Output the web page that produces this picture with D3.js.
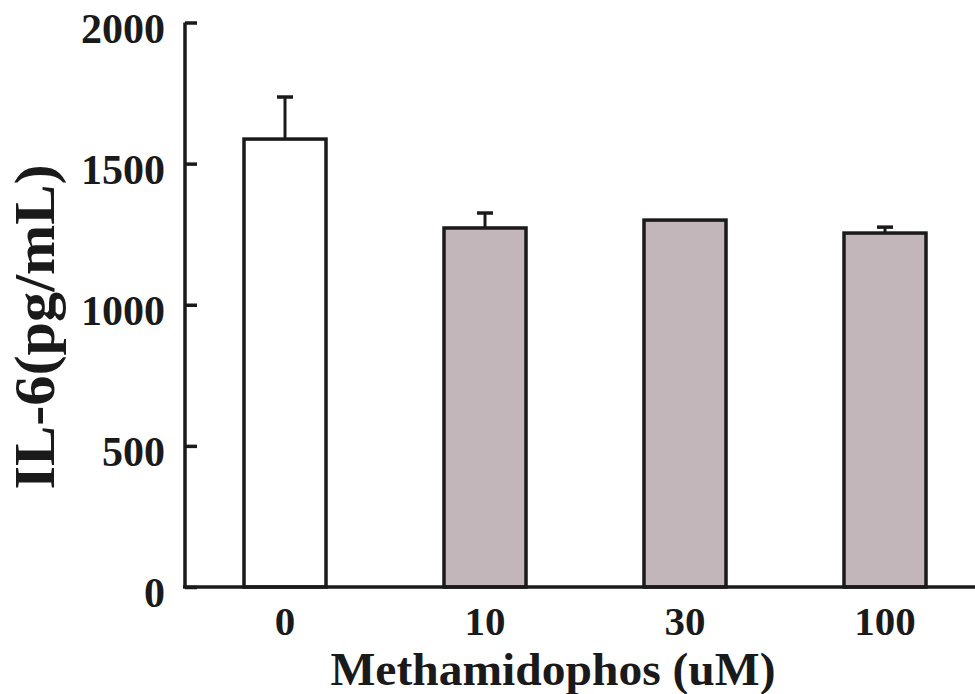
<!DOCTYPE html>
<html>
<head>
<meta charset="utf-8">
<script src="https://cdn.jsdelivr.net/npm/d3@7"></script>
<style>
  body { margin: 0; background: #fff; }
  text { font-family: "Liberation Serif", "Times New Roman", serif; font-weight: bold; fill: #1a1a1a; }
</style>
</head>
<body>
<svg width="975" height="694"></svg>
<script>
var doses = ["0", "10", "30", "100"];
var means = [1587, 1272, 1300, 1254];
var errs = [149, 53, 0, 21];
var fills = ["#ffffff", "#c3b6ba", "#c3b6ba", "#c3b6ba"];
var yTicks = [0, 500, 1000, 1500, 2000];

var svg = d3.select("svg");

var x = d3.scaleBand()
      .domain(doses)
      .range([185, 985])
      .paddingInner(0.59)
      .paddingOuter(0.295);

var y = d3.scaleLinear()
      .domain([0, 2000])
      .range([587, 22.5]);

var ink = "#1a1a1a";

// bars, error bars first so the bar outline sits on top
var bars = svg.append("g").selectAll("g")
      .data(doses)
      .enter().append("g");

bars.append("line")
    .attr("x1", function(d) { return x(d) + x.bandwidth() / 2; })
    .attr("x2", function(d) { return x(d) + x.bandwidth() / 2; })
    .attr("y1", function(d, i) { return y(means[i]); })
    .attr("y2", function(d, i) { return y(means[i] + errs[i]); })
    .attr("stroke", ink)
    .attr("stroke-width", 3)
    .style("display", function(d, i) { return errs[i] ? null : "none"; });

bars.append("line")
    .attr("x1", function(d) { return x(d) + x.bandwidth() / 2 - 8; })
    .attr("x2", function(d) { return x(d) + x.bandwidth() / 2 + 8; })
    .attr("y1", function(d, i) { return y(means[i] + errs[i]); })
    .attr("y2", function(d, i) { return y(means[i] + errs[i]); })
    .attr("stroke", ink)
    .attr("stroke-width", 3.5)
    .style("display", function(d, i) { return errs[i] ? null : "none"; });

bars.append("rect")
    .attr("x", function(d) { return x(d); })
    .attr("width", x.bandwidth())
    .attr("y", function(d, i) { return y(means[i]); })
    .attr("height", function(d, i) { return y(0) - y(means[i]); })
    .attr("fill", function(d, i) { return fills[i]; })
    .attr("stroke", ink)
    .attr("stroke-width", 3.5);

// y axis, ticks point inward
var yAxis = svg.append("g")
      .attr("transform", "translate(185,0)")
      .call(d3.axisRight(y).tickValues(yTicks).tickSize(12).tickFormat(""));
yAxis.select(".domain").attr("d", "M0," + y(2000) + "V" + y(0)).attr("stroke", ink).attr("stroke-width", 3.5);
yAxis.selectAll(".tick line").attr("stroke", ink).attr("stroke-width", 3.5);

svg.append("g").selectAll("text")
    .data(yTicks)
    .enter().append("text")
    .attr("x", 165)
    .attr("y", function(d) { return y(d) + 20; })
    .attr("text-anchor", "end")
    .style("font-size", "42px")
    .text(function(d) { return d; });

// x axis
svg.append("line")
    .attr("x1", 183).attr("x2", 975)
    .attr("y1", y(0)).attr("y2", y(0))
    .attr("stroke", ink).attr("stroke-width", 3.5);

svg.append("g").selectAll("text")
    .data(doses)
    .enter().append("text")
    .attr("x", function(d) { return x(d) + x.bandwidth() / 2; })
    .attr("y", 635)
    .attr("text-anchor", "middle")
    .style("font-size", "41px")
    .text(function(d) { return d; });

svg.append("text")
    .attr("x", 553)
    .attr("y", 685)
    .attr("text-anchor", "middle")
    .attr("textLength", 445)
    .attr("lengthAdjust", "spacingAndGlyphs")
    .style("font-size", "46px")
    .text("Methamidophos (uM)");

svg.append("text")
    .attr("transform", "translate(54,327) rotate(-90)")
    .attr("text-anchor", "middle")
    .attr("textLength", 325)
    .attr("lengthAdjust", "spacingAndGlyphs")
    .style("font-size", "56px")
    .text("IL-6(pg/mL)");
</script>
</body>
</html>
